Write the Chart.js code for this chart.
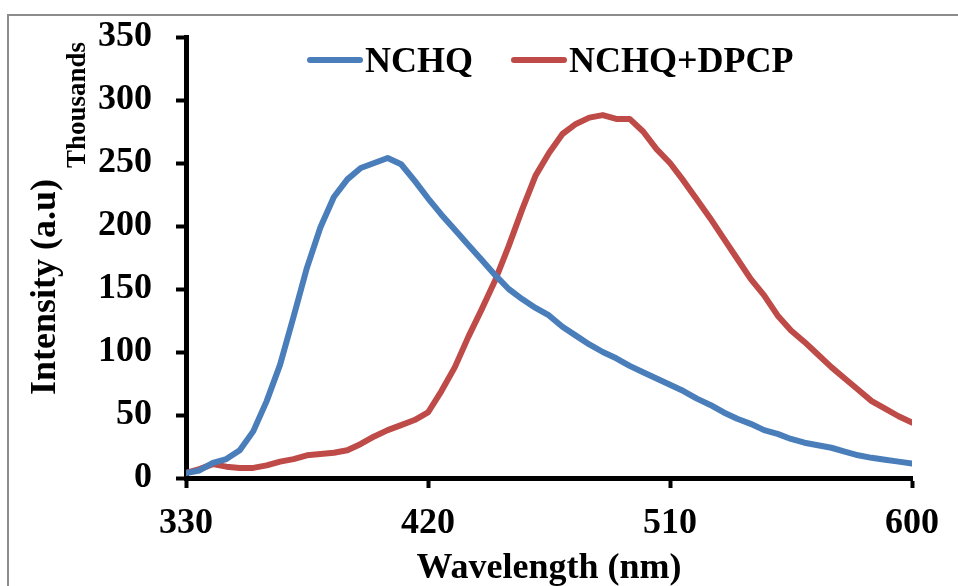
<!DOCTYPE html>
<html>
<head>
<meta charset="utf-8">
<script src="https://cdn.jsdelivr.net/npm/chart.js@4.4.1/dist/chart.umd.min.js"></script>
<style>
  body { margin: 0; background: #fff; }
  #wrap { width: 958px; height: 586px; position: relative; }
</style>
</head>
<body>
<div id="wrap"><canvas id="myChart"></canvas></div>
<script>
// wavelength (nm) and intensity (thousands)
var wavelength = [330, 335, 340, 345, 350, 355, 360, 365, 370, 375, 380, 385, 390, 395,
  400, 405, 410, 415, 420, 425, 430, 435, 440, 445, 450, 455, 460, 465, 470, 475, 480,
  485, 490, 495, 500, 505, 510, 515, 520, 525, 530, 535, 540, 545, 550, 555, 560, 565,
  570, 575, 580, 585, 590, 595, 600];

var nchq = [4, 6, 12, 15, 22, 37, 61, 90, 128, 167, 199, 223, 237, 246,
  250, 254, 249, 236, 222, 209, 197, 185, 173, 161, 150, 142, 135, 129, 120, 113, 106,
  100, 95, 89, 84, 79, 74, 69, 63, 58, 52, 47, 43, 38, 35, 31, 28, 26,
  24, 21, 18, 16, 14.5, 13, 11.5];

var nchqDpcp = [4, 7, 11, 9, 8, 8, 10, 13, 15, 18, 19, 20, 22, 27,
  33, 38, 42, 46, 52, 69, 88, 112, 134, 157, 184, 213, 240, 258, 273, 281, 286,
  288, 285, 285, 275, 261, 250, 236, 221, 206, 190, 174, 158, 145, 129, 117, 108, 98,
  88, 79, 70, 61, 55, 49, 44];

var xTicks = [330, 420, 510, 600];
var yTicks = [0, 50, 100, 150, 200, 250, 300, 350];

var seriesNames = ['NCHQ', 'NCHQ+DPCP'];
var seriesColors = ['#4A7EBB', '#BE4B48'];

var serif = "'Liberation Serif', 'Times New Roman', serif";

function toPoints(xs, ys) {
  return xs.map(function(x, i) { return { x: x, y: ys[i] }; });
}

// grey frame, rotated y titles and the in-plot legend
var extras = {
  id: 'extras',
  beforeDraw: function(chart) {
    var ctx = chart.ctx;
    ctx.save();
    ctx.strokeStyle = '#8c8c8c';
    ctx.lineWidth = 2;
    ctx.strokeRect(8, 15, 2000, 2000);
    ctx.restore();
  },
  afterDraw: function(chart) {
    var ctx = chart.ctx;
    var area = chart.chartArea;
    ctx.save();
    ctx.fillStyle = '#000';

    // y axis title + display units label
    ctx.save();
    ctx.translate(area.left - 131, area.top + 250);
    ctx.rotate(-Math.PI / 2);
    ctx.font = 'bold 36px ' + serif;
    ctx.textAlign = 'center';
    ctx.textBaseline = 'alphabetic';
    ctx.fillText('Intensity (a.u)', 0, 0);
    ctx.restore();

    ctx.save();
    ctx.translate(area.left - 101, area.top + 68);
    ctx.rotate(-Math.PI / 2);
    ctx.font = 'bold 27px ' + serif;
    ctx.textAlign = 'center';
    ctx.textBaseline = 'alphabetic';
    ctx.fillText('Thousands', 0, 0);
    ctx.restore();

    // legend
    ctx.font = 'bold 36px ' + serif;
    ctx.textBaseline = 'alphabetic';
    ctx.textAlign = 'left';
    var x = area.left + 124;
    var lineY = area.top + 23;
    chart.data.datasets.forEach(function(ds) {
      ctx.strokeStyle = ds.borderColor;
      ctx.lineWidth = 6;
      ctx.lineCap = 'round';
      ctx.beginPath();
      ctx.moveTo(x, lineY);
      ctx.lineTo(x + 50, lineY);
      ctx.stroke();
      ctx.fillText(ds.label, x + 55, area.top + 35);
      x += 55 + ctx.measureText(ds.label).width + 41;
    });
    ctx.restore();
  }
};

var ctx = document.getElementById('myChart').getContext('2d');

var myChart = new Chart(ctx, {
  type: 'line',
  data: {
    datasets: [{
      label: seriesNames[0],
      data: toPoints(wavelength, nchq),
      borderColor: seriesColors[0],
      backgroundColor: seriesColors[0],
      borderWidth: 6,
      borderCapStyle: 'round',
      borderJoinStyle: 'round',
      pointRadius: 0,
      tension: 0
    }, {
      label: seriesNames[1],
      data: toPoints(wavelength, nchqDpcp),
      borderColor: seriesColors[1],
      backgroundColor: seriesColors[1],
      borderWidth: 6,
      borderCapStyle: 'round',
      borderJoinStyle: 'round',
      pointRadius: 0,
      tension: 0
    }]
  },
  options: {
    responsive: true,
    maintainAspectRatio: false,
    animation: false,
    layout: { padding: { top: 37, right: 46, bottom: 0, left: 0 } },
    plugins: {
      legend: { display: false },
      tooltip: { enabled: false }
    },
    scales: {
      x: {
        type: 'linear',
        min: 330,
        max: 600,
        afterFit: function(scale) {
          scale.height = 108;
          scale.paddingLeft = 0;
          scale.paddingRight = 0;
        },
        afterBuildTicks: function(scale) {
          scale.ticks = xTicks.map(function(v) { return { value: v }; });
        },
        border: { display: true, color: '#000', width: 5 },
        grid: {
          drawOnChartArea: false,
          drawTicks: true,
          tickLength: 10,
          tickWidth: 4,
          tickColor: '#000'
        },
        ticks: {
          color: '#000',
          padding: 14,
          maxRotation: 0,
          autoSkip: false,
          font: { family: serif, size: 36, weight: 'bold' }
        },
        title: {
          display: true,
          text: 'Wavelength (nm)',
          color: '#000',
          padding: 0,
          font: { family: serif, size: 36, weight: 'bold', lineHeight: 0.95 }
        }
      },
      y: {
        type: 'linear',
        min: 0,
        max: 350,
        afterFit: function(scale) {
          scale.width = 186;
          scale.paddingTop = 0;
          scale.paddingBottom = 0;
        },
        afterBuildTicks: function(scale) {
          scale.ticks = yTicks.map(function(v) { return { value: v }; });
        },
        border: { display: true, color: '#000', width: 5 },
        grid: {
          drawOnChartArea: false,
          drawTicks: true,
          tickLength: 10,
          tickWidth: 4,
          tickColor: '#000'
        },
        ticks: {
          color: '#000',
          padding: 24,
          autoSkip: false,
          font: { family: serif, size: 36, weight: 'bold' }
        }
      }
    }
  },
  plugins: [extras]
});
</script>
</body>
</html>
